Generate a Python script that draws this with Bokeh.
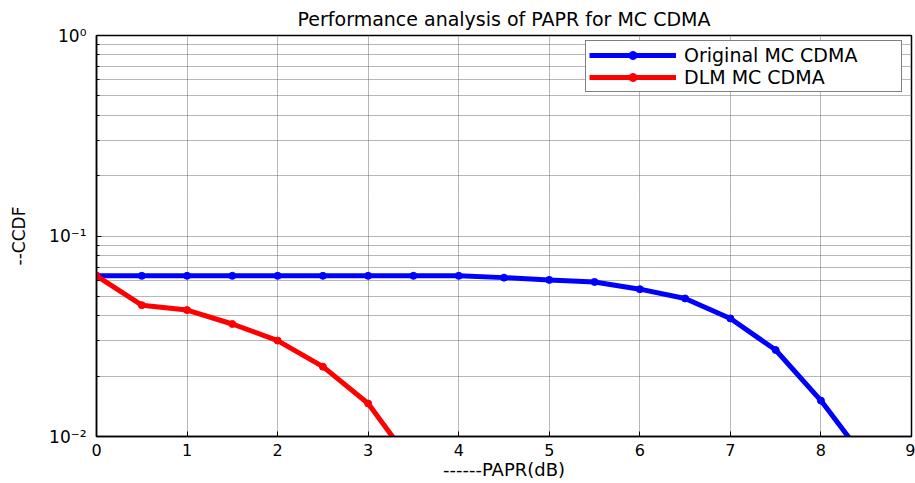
from bokeh.plotting import figure
from bokeh.models import Range1d, FixedTicker, Legend, LegendItem
from bokeh.embed import file_html
from bokeh.resources import INLINE

# ---- data ----
papr_orig = [0, 0.5, 1, 1.5, 2, 2.5, 3, 3.5, 4, 4.5, 5, 5.5, 6, 6.5, 7, 7.5, 8, 8.5]
ccdf_orig = [0.0633, 0.0633, 0.0633, 0.0633, 0.0633, 0.0633, 0.0633, 0.0633, 0.0633,
             0.0620, 0.0604, 0.0590, 0.0543, 0.0488, 0.0388, 0.0270, 0.0151, 0.0076]
papr_dlm = [0, 0.5, 1, 1.5, 2, 2.5, 3, 3.5]
ccdf_dlm = [0.0633, 0.0452, 0.0427, 0.0364, 0.0301, 0.0223, 0.0146, 0.0072]

x_ticks = [0, 1, 2, 3, 4, 5, 6, 7, 8, 9]
y_major = [0.01, 0.1, 1.0]
y_minor = [0.02, 0.03, 0.04, 0.05, 0.06, 0.07, 0.08, 0.09,
           0.2, 0.3, 0.4, 0.5, 0.6, 0.7, 0.8, 0.9]
y_labels = {0.01: "10\u207b\u00b2", 0.1: "10\u207b\u00b9", 1.0: "10\u2070"}

FONT = "DejaVu Sans"
GRID = "#6e6e6e"

p = figure(width=915, height=483, x_range=Range1d(0, 9), y_range=Range1d(0.01, 1),
           y_axis_type="log", output_backend="svg", toolbar_location=None,
           title="Performance analysis of PAPR for MC CDMA",
           min_border_left=96, min_border_right=4, min_border_top=34, min_border_bottom=47)
p.background_fill_color = "white"
p.border_fill_color = "white"
p.outline_line_color = "black"
p.outline_line_width = 1.5

p.title.text_font = FONT
p.title.text_font_size = "19px"
p.title.text_font_style = "normal"
p.title.text_color = "black"
p.title.align = "center"
p.title.standoff = 11

# x axis
p.xaxis.ticker = FixedTicker(ticks=x_ticks)
p.xaxis.axis_label = "------PAPR(dB)"
for ax in p.xaxis:
    ax.major_tick_in = 5
    ax.major_tick_out = 0
    ax.minor_tick_in = 0
    ax.minor_tick_out = 0
    ax.axis_line_width = 1.5
    ax.major_label_text_font = FONT
    ax.major_label_text_font_size = "16px"
    ax.major_label_text_color = "black"
    ax.major_label_standoff = 7
    ax.axis_label_text_font = FONT
    ax.axis_label_text_font_size = "18px"
    ax.axis_label_text_font_style = "normal"
    ax.axis_label_text_color = "black"
    ax.axis_label_standoff = 0

# y axis
p.yaxis.ticker = FixedTicker(ticks=y_major, minor_ticks=y_minor)
p.yaxis.axis_label = "--CCDF"
for ax in p.yaxis:
    ax.major_label_overrides = y_labels
    ax.major_tick_in = 5
    ax.major_tick_out = 0
    ax.minor_tick_in = 3
    ax.minor_tick_out = 0
    ax.axis_line_width = 1.5
    ax.major_label_text_font = FONT
    ax.major_label_text_font_size = "17px"
    ax.major_label_text_color = "black"
    ax.major_label_standoff = 10
    ax.axis_label_text_font = FONT
    ax.axis_label_text_font_size = "17px"
    ax.axis_label_text_font_style = "normal"
    ax.axis_label_text_color = "black"
    ax.axis_label_standoff = 17

# grids
p.xgrid.grid_line_color = GRID
p.xgrid.grid_line_dash = "1 1"
p.ygrid.grid_line_color = GRID
p.ygrid.grid_line_dash = "1 1"
p.ygrid.minor_grid_line_color = GRID
p.ygrid.minor_grid_line_dash = "1 1"

# series
bl = p.line(papr_orig, ccdf_orig, line_color="#0000ff", line_width=5)
bs = p.scatter(papr_orig, ccdf_orig, marker="circle", size=7, fill_color="#0000ff", line_color="#0000ff")
rl = p.line(papr_dlm, ccdf_dlm, line_color="#ff0000", line_width=5)
rs = p.scatter(papr_dlm, ccdf_dlm, marker="circle", size=7, fill_color="#ff0000", line_color="#ff0000")

legend = Legend(items=[LegendItem(label="Original MC CDMA", renderers=[bl, bs]),
                       LegendItem(label="DLM MC CDMA", renderers=[rl, rs])],
                location=(489, 344))
legend.border_line_color = "black"
legend.border_line_width = 1
legend.background_fill_color = "white"
legend.background_fill_alpha = 1
legend.label_text_font = FONT
legend.label_text_font_size = "19px"
legend.label_text_color = "black"
legend.padding = 3
legend.spacing = 0
legend.margin = 0
legend.glyph_width = 87
legend.glyph_height = 20
legend.label_height = 20
legend.label_width = 214
legend.label_standoff = 8
p.add_layout(legend)

open("out.html", "w").write(file_html(p, INLINE))
